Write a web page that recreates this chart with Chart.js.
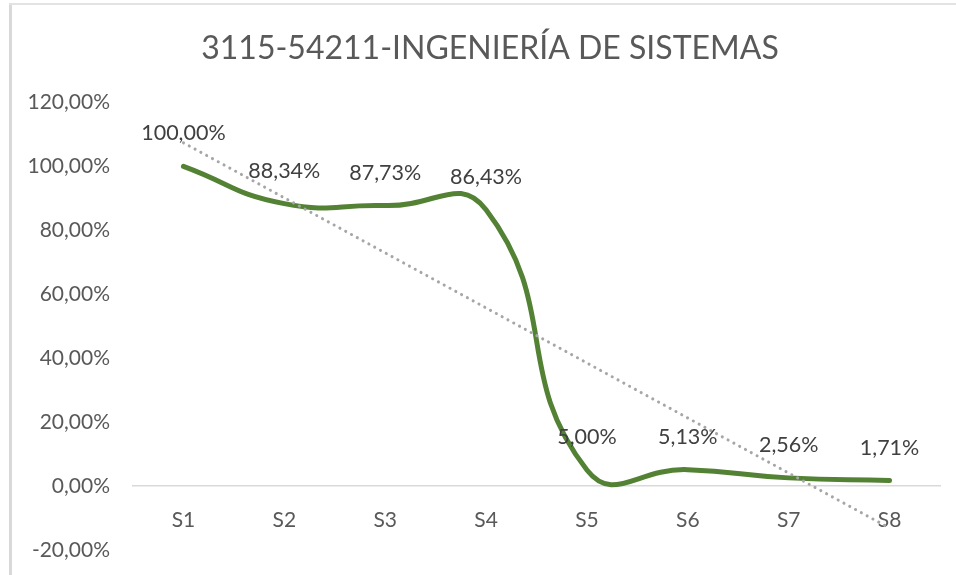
<!DOCTYPE html>
<html>
<head>
<meta charset="utf-8">
<script src="https://cdn.jsdelivr.net/npm/chart.js@4"></script>
<style>
  html, body { margin: 0; padding: 0; background: #fff; }
  #wrap { position: relative; width: 956px; height: 575px; }
  #frameLeft { position: absolute; left: 9px; top: 3px; width: 3px; height: 572px; background: #d9d9d9; }
  #frameTop { position: absolute; left: 9px; top: 3px; width: 947px; height: 2px; background: #e3e3e3; }
  canvas { position: absolute; left: 0; top: 0; }
</style>
</head>
<body>
<div id="wrap">
  <canvas id="chart" width="956" height="575"></canvas>
  <div id="frameLeft"></div>
  <div id="frameTop"></div>
</div>
<script>
const titleText = '3115-54211-INGENIERÍA DE SISTEMAS';
const semesters = ['S1', 'S2', 'S3', 'S4', 'S5', 'S6', 'S7', 'S8'];
const retention = [100.00, 88.34, 87.73, 86.43, 5.00, 5.13, 2.56, 1.71];
const yTicks = [-20, 0, 20, 40, 60, 80, 100, 120];

// linear trendline (least squares) like Excel's
function trend(values) {
    const n = values.length;
    const xs = values.map((v, i) => i + 1);
    const mx = xs.reduce((a, b) => a + b, 0) / n;
    const my = values.reduce((a, b) => a + b, 0) / n;
    let sxy = 0, sxx = 0;
    xs.forEach((x, i) => { sxy += (x - mx) * (values[i] - my); sxx += (x - mx) * (x - mx); });
    const slope = sxy / sxx;
    return xs.map(x => my + slope * (x - mx));
}

const fmt = v => v.toFixed(2).replace('.', ',') + '%';
const FONT = 'Lato, "Open Sans", sans-serif';

const dataLabels = {
    id: 'dataLabels',
    afterLayout(chart) {
        // title sits a little right of the canvas centre in the original
        chart.titleBlock.left += 14;
    },
    afterDatasetsDraw(chart) {
        const ctx = chart.ctx;
        const meta = chart.getDatasetMeta(0);
        ctx.save();
        ctx.font = '21.5px ' + FONT;
        ctx.fillStyle = '#404040';
        ctx.textAlign = 'center';
        ctx.textBaseline = 'middle';
        meta.data.forEach((pt, i) => {
            ctx.fillText(fmt(retention[i]), pt.x, pt.y - 33);
        });
        ctx.restore();
    }
};

new Chart(document.getElementById('chart'), {
    type: 'line',
    data: {
        labels: semesters,
        datasets: [
            {
                data: retention,
                borderColor: '#548235',
                borderWidth: 5,
                borderCapStyle: 'round',
                tension: 0.5,
                pointRadius: 0,
                fill: false,
                order: 2
            },
            {
                data: trend(retention),
                borderColor: '#a6a6a6',
                borderWidth: 3,
                borderDash: [0.1, 6.5],
                borderCapStyle: 'round',
                tension: 0,
                pointRadius: 0,
                fill: false,
                order: 1
            }
        ]
    },
    options: {
        responsive: false,
        animation: false,
        layout: { padding: { left: 26, right: 16, top: 0, bottom: 25 } },
        plugins: {
            legend: { display: false },
            tooltip: { enabled: false },
            title: {
                display: true,
                text: titleText,
                color: '#595959',
                font: { family: FONT, size: 32, weight: 'normal' },
                padding: { top: 29, bottom: 35 }
            }
        },
        scales: {
            x: {
                position: { y: 0 },
                offset: true,
                grid: { display: false, drawTicks: false },
                border: { color: '#d9d9d9', width: 1.5 },
                ticks: { color: '#595959', font: { family: FONT, size: 21 }, padding: 22 }
            },
            y: {
                min: -20,
                max: 120,
                afterBuildTicks: s => { s.ticks = yTicks.map(v => ({ value: v })); },
                afterFit: s => { s.width = 107; s.paddingTop = 0; s.paddingBottom = 0; },
                grid: { display: false, drawTicks: false },
                border: { display: false },
                ticks: { color: '#595959', font: { family: FONT, size: 21 }, padding: 23, callback: v => fmt(v) }
            }
        }
    },
    plugins: [dataLabels]
});
</script>
</body>
</html>
